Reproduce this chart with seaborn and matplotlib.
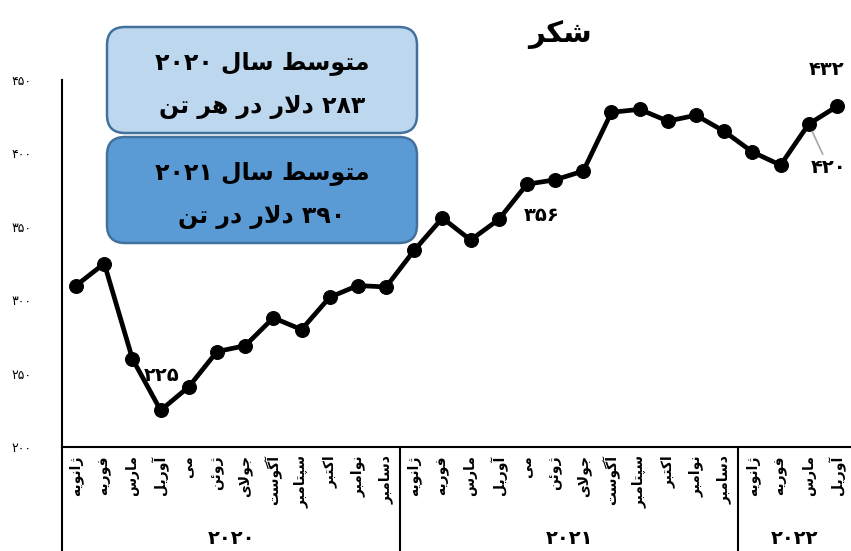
import matplotlib
matplotlib.use('Agg')
import pandas as pd
import seaborn as sns
from matplotlib import pyplot as plt
from matplotlib.patches import FancyBboxPatch
from matplotlib.transforms import IdentityTransform

# データ
months = ['ژانویه', 'فوریه', 'مارس', 'آوریل', 'می', 'ژوئن',
          'جولای', 'آگوست', 'سپتامبر', 'اکتبر', 'نوامبر', 'دسامبر']
years = ['2020', '2021', '2022']
month_labels = months + months + months[:4]
prices = [310, 325, 260, 225, 241, 265, 269, 288, 280, 302, 310, 309,
          334, 356, 341, 355, 379, 382, 388, 428, 430, 422, 426, 415,
          401, 392, 420, 432]
y_ticks = [200, 250, 300, 350, 400, 450]
title = 'شکر'
box_lines = [['متوسط سال 2020', '283 دلار در هر تن'],
             ['متوسط سال 2021', '390 دلار در تن']]
label_idx = [3, 13, 26, 27]

# 文字の連結形（matplotlibはアラビア文字の整形をしないので自前で行う）
DUAL = {'ب': 0xFE8F, 'پ': 0xFB56, 'ت': 0xFE95, 'ث': 0xFE99, 'ج': 0xFE9D,
        'چ': 0xFB7A, 'ح': 0xFEA1, 'خ': 0xFEA5, 'س': 0xFEB1, 'ش': 0xFEB5,
        'ص': 0xFEB9, 'ض': 0xFEBD, 'ط': 0xFEC1, 'ظ': 0xFEC5, 'ع': 0xFEC9,
        'غ': 0xFECD, 'ف': 0xFED1, 'ق': 0xFED5, 'ک': 0xFB8E, 'گ': 0xFB92,
        'ل': 0xFEDD, 'م': 0xFEE1, 'ن': 0xFEE5, 'ه': 0xFEE9, 'ی': 0xFBFC,
        'ئ': 0xFE89}
RIGHT = {'ا': 0xFE8D, 'آ': 0xFE81, 'د': 0xFEA9, 'ذ': 0xFEAB, 'ر': 0xFEAD,
         'ز': 0xFEAF, 'ژ': 0xFB8A, 'و': 0xFEED}
LAM_ALEF = {'ا': 0xFEFB, 'آ': 0xFEF5}


def shape_word(word):
    out = []
    i = 0
    n = len(word)
    while i < n:
        ch = word[i]
        prev = word[i - 1] if i > 0 else None
        joins_prev = prev in DUAL
        if ch == 'ل' and i + 1 < n and word[i + 1] in LAM_ALEF:
            out.append(chr(LAM_ALEF[word[i + 1]] + (1 if joins_prev else 0)))
            i += 2
            continue
        nxt = word[i + 1] if i + 1 < n else None
        if ch in DUAL:
            joins_next = nxt in DUAL or nxt in RIGHT
            if joins_prev and joins_next:
                k = 3
            elif joins_prev:
                k = 1
            elif joins_next:
                k = 2
            else:
                k = 0
            out.append(chr(DUAL[ch] + k))
        elif ch in RIGHT:
            out.append(chr(RIGHT[ch] + (1 if joins_prev else 0)))
        else:
            out.append(ch)
        i += 1
    return ''.join(out)


def fa(text):
    text = str(text).translate(str.maketrans('0123456789', '۰۱۲۳۴۵۶۷۸۹'))
    vis = []
    for w in text.split(' '):
        if any(c in DUAL or c in RIGHT for c in w):
            vis.append(shape_word(w)[::-1])
        else:
            vis.append(w)
    return ' '.join(vis[::-1])


sns.set_style('white')
plt.rcParams['font.family'] = ['DejaVu Sans']
plt.rcParams['text.color'] = 'black'
plt.rcParams['xtick.color'] = 'black'
plt.rcParams['ytick.color'] = 'black'

W, H = 851, 551
fig = plt.figure(figsize=(W / 100, H / 100), dpi=100)
ax = fig.add_axes([62 / W, 1 - 447 / H, (W - 62) / W, (447 - 80) / H])

df = pd.DataFrame({'idx': range(len(prices)), 'price': prices})
sns.lineplot(data=df, x='idx', y='price', ax=ax, color='black', lw=3.4,
             marker='o', markersize=10, markeredgecolor='black', clip_on=False)

ax.set_xlim(-0.5, len(prices) - 0.5)
ax.set_ylim(200, 450)
ax.set_xlabel('')
ax.set_ylabel('')
for s in ['top', 'right']:
    ax.spines[s].set_visible(False)
for s in ['left', 'bottom']:
    ax.spines[s].set_color('black')
    ax.spines[s].set_linewidth(1.5)

ax.set_yticks(y_ticks)
ax.set_yticklabels([fa(v) for v in y_ticks], fontsize=9)
ax.tick_params(axis='y', length=0, pad=22)

ax.set_xticks(range(len(prices)))
ax.set_xticklabels([fa(m) for m in month_labels], rotation=90,
                   fontsize=10, fontweight='bold')
ax.tick_params(axis='x', length=0, pad=6)

# 年の区切り線とラベル
xt = ax.get_xaxis_transform()
for xpos in [-0.5, 11.5, 23.5]:
    ax.plot([xpos, xpos], [0, -0.4], color='black', lw=1.5,
            transform=xt, clip_on=False)
starts = [0, 12, 24]
ends = [11, 23, len(prices) - 1]
for yr, a, b in zip(years, starts, ends):
    ax.text((a + b) / 2, -0.25, fa(yr), transform=xt, ha='center',
            va='center', fontsize=14, fontweight='bold')

# データラベル
offsets = {3: (1, 35), 13: (99, 2), 26: (20, -43), 27: (-10, 37)}
for i in label_idx:
    dx, dy = offsets[i]
    arrow = dict(arrowstyle='-', color='#A6A6A6', lw=1.2,
                 shrinkA=0, shrinkB=6) if i == 26 else None
    ax.annotate(fa(prices[i]), xy=(i, prices[i]), xytext=(dx, dy),
                textcoords='offset pixels', ha='center', va='center',
                fontsize=14, fontweight='bold', arrowprops=arrow,
                annotation_clip=False)

# タイトル
fig.text(560 / W, 1 - 34 / H, fa(title), ha='center', va='center',
         fontsize=21, fontweight='bold')

# 年平均のボックス
box_colors = ['#BDD7EE', '#5B9BD5']
box_tops = [27, 137]
for lines, color, top in zip(box_lines, box_colors, box_tops):
    patch = FancyBboxPatch((107, H - top - 106), 310, 106,
                           boxstyle='round,pad=0,rounding_size=18',
                           transform=IdentityTransform(), facecolor=color,
                           edgecolor='#41719C', lw=1.8)
    fig.patches.append(patch)
    for k, line in enumerate(lines):
        fig.text(262 / W, 1 - (top + 36 + k * 44) / H, fa(line),
                 ha='center', va='center', fontsize=17, fontweight='bold')

fig.savefig('out.png', dpi=100)
